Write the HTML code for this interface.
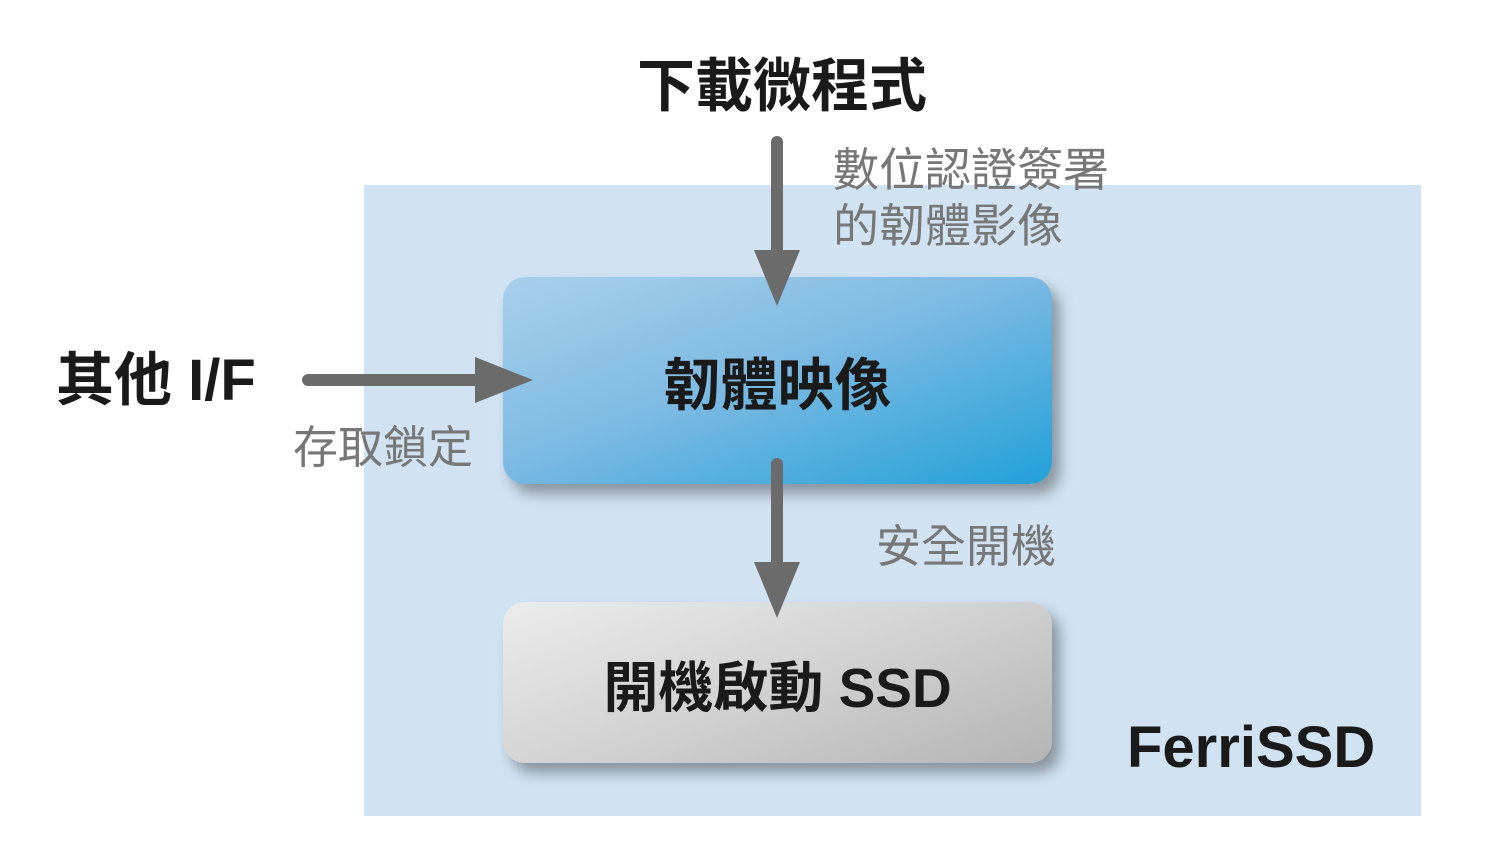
<!DOCTYPE html>
<html><head><meta charset="utf-8">
<style>
html,body{margin:0;padding:0;}
body{width:1500px;height:844px;position:relative;background:#fff;overflow:hidden;
font-family:"Liberation Sans","Noto Sans CJK TC",sans-serif;}
.abs{position:absolute;white-space:nowrap;}
.bg{left:364px;top:185px;width:1057px;height:631px;background:#d1e3f3;}
.box{left:503px;width:549px;border-radius:22px;display:flex;align-items:center;justify-content:center;
font-weight:bold;color:#1a1a1a;box-shadow:8px 10px 14px rgba(0,0,0,0.35);}
.b1{top:277px;height:207px;background:linear-gradient(160deg,#a8d0ec 0%,#7fbbe3 45%,#22a0d8 100%);font-size:57px;}
.b2{top:602px;height:161px;background:linear-gradient(160deg,#ececec 0%,#d2d2d2 50%,#b4b4b4 100%);font-size:55px;}
.g{color:#777;font-size:45px;line-height:56px;}
.k{color:#1a1a1a;font-weight:bold;}
</style></head><body>
<div class="abs bg"></div>
<div class="abs box b1">韌體映像</div>
<div class="abs box b2">開機啟動 SSD</div>
<svg class="abs" style="left:0;top:0" width="1500" height="844">
<g fill="#6b6b6b" stroke="#6b6b6b">
<line x1="777" y1="142" x2="777" y2="255" stroke-width="12" stroke-linecap="round"/>
<polygon points="754,250 800,250 777,306" stroke="none"/>
<line x1="308" y1="380" x2="480" y2="380" stroke-width="12" stroke-linecap="round"/>
<polygon points="475,357 475,403 533,380" stroke="none"/>
<line x1="777" y1="464" x2="777" y2="566" stroke-width="12" stroke-linecap="round"/>
<polygon points="754,562 800,562 777,618" stroke="none"/>
</g></svg>
<div class="abs k" style="left:637px;top:52px;font-size:58px;line-height:70px;">下載微程式</div>
<div class="abs g" style="left:833px;top:142px;font-size:46px;">數位認證簽署<br>的韌體影像</div>
<div class="abs k" style="left:56px;top:346px;font-size:58px;line-height:70px;">其他 I/F</div>
<div class="abs g" style="left:293px;top:420px;">存取鎖定</div>
<div class="abs g" style="left:876px;top:519px;">安全開機</div>
<div class="abs k" style="left:1127px;top:714px;font-size:58px;line-height:68px;">FerriSSD</div>
</body></html>
